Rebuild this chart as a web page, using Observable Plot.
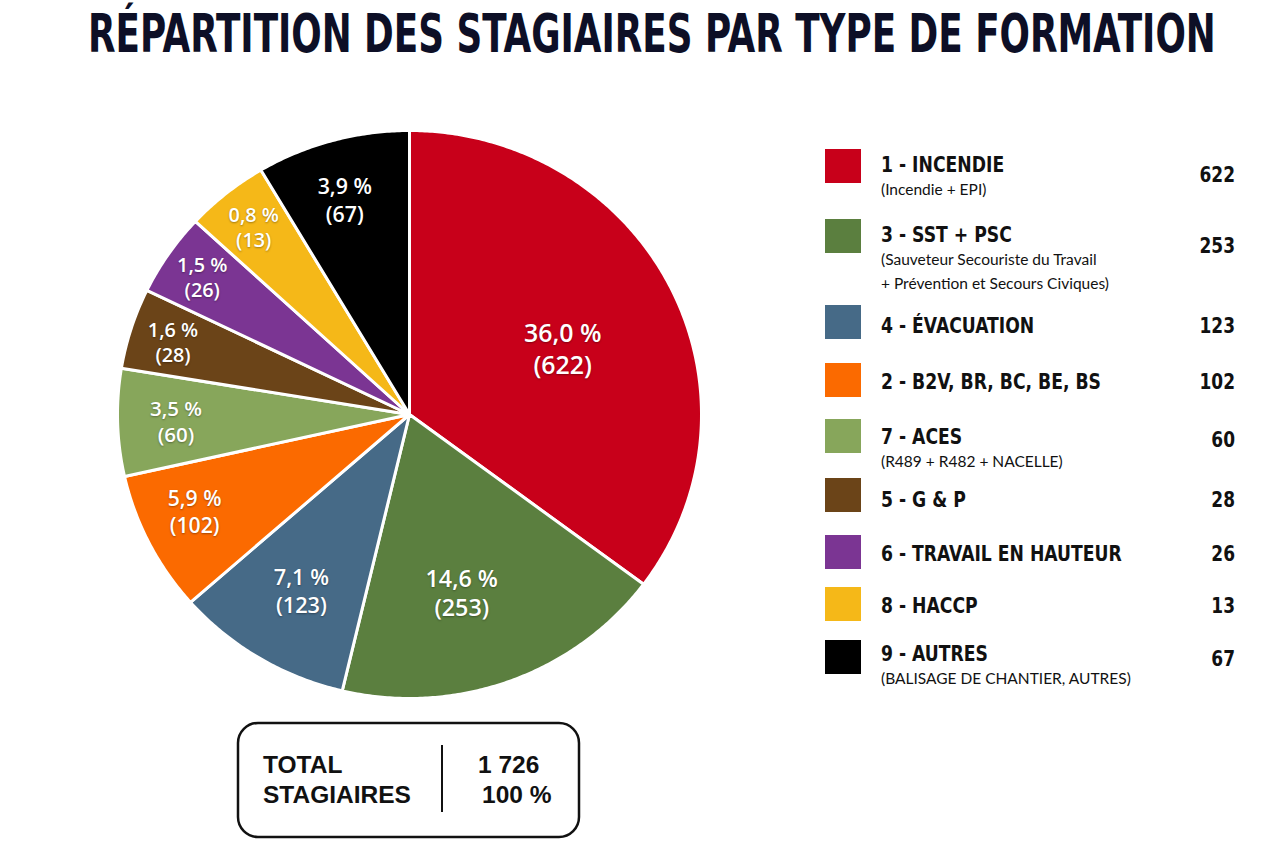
<!DOCTYPE html>
<html>
<head>
<meta charset="utf-8">
<script src="https://cdn.jsdelivr.net/npm/d3@7"></script>
<script src="https://cdn.jsdelivr.net/npm/@observablehq/plot@0.6"></script>
<style>
  html, body { margin: 0; padding: 0; background: #ffffff; width: 1280px; height: 853px; overflow: hidden; }
  #root { position: relative; width: 1280px; height: 853px; }
  #pie, #overlay { position: absolute; left: 0; top: 0; }
  #pie text { text-shadow: 0 1px 2px rgba(0,0,0,0.35); }
</style>
</head>
<body>
<div id="root">
  <div id="pie"></div>
  <div id="overlay"></div>
</div>
<script>
// ---------------- DATA ----------------
const titleText = "RÉPARTITION DES STAGIAIRES PAR TYPE DE FORMATION";
const categories = ["1 - INCENDIE", "3 - SST + PSC", "4 - ÉVACUATION", "2 - B2V, BR, BC, BE, BS",
  "7 - ACES", "5 - G & P", "6 - TRAVAIL EN HAUTEUR", "8 - HACCP", "9 - AUTRES"];
const details = [
  ["(Incendie + EPI)"],
  ["(Sauveteur Secouriste du Travail", "+ Prévention et Secours Civiques)"],
  [], [],
  ["(R489 + R482 + NACELLE)"],
  [], [], [],
  ["(BALISAGE DE CHANTIER, AUTRES)"]
];
const counts = [622, 253, 123, 102, 60, 28, 26, 13, 67];
const percentLabels = ["36,0 %", "14,6 %", "7,1 %", "5,9 %", "3,5 %", "1,6 %", "1,5 %", "0,8 %", "3,9 %"];
// slice sizes as they are drawn in the picture (% of the full circle)
const drawnShares = [35.2, 18.5, 9.8, 8.0, 6.1, 4.6, 4.7, 4.6, 8.5];
const colors = ["#c8001a", "#5b7f3f", "#466a87", "#fb6a00", "#87a65b", "#6b4418", "#7b3593", "#f5b818", "#000000"];
const totalLabel = ["TOTAL", "STAGIAIRES"];
const totalValues = ["1 726", "100 %"];

// ---------------- LAYOUT (not data) ----------------
const labelRadius = [0.575, 0.65, 0.72, 0.81, 0.80, 0.85, 0.86, 0.85, 0.79];
const labelShiftDeg = [2.5, 4, 0, 2.3, 0, 0, 0, 0, -1];
const legendMainY = [164, 234, 325, 381, 436, 499, 553, 605, 653];
const legendSwatchY = [166, 236, 322, 380, 436, 495, 552, 604, 657];
const legendNumY = [174.5, 245, 325, 381, 439, 499, 553, 605, 658];

// ---------------- PIE ----------------
const table = categories.map((name, i) => ({
  name, count: counts[i], pct: percentLabels[i], share: drawnShares[i], i
}));
const arcs = d3.pie().sort(null).value(d => d.share).startAngle(0).endAngle(2 * Math.PI)(table);

const polys = [];
for (const a of arcs) {
  polys.push({name: a.data.name, x: 0, y: 0});
  const n = Math.max(4, Math.ceil((a.endAngle - a.startAngle) / (Math.PI / 360)));
  for (let k = 0; k <= n; k++) {
    const t = a.startAngle + (a.endAngle - a.startAngle) * k / n;
    polys.push({name: a.data.name, x: Math.sin(t), y: Math.cos(t)});
  }
}
const labels = arcs.map(a => {
  const mid = (a.startAngle + a.endAngle) / 2 + labelShiftDeg[a.data.i] * Math.PI / 180;
  const r = labelRadius[a.data.i];
  return {
    x: r * Math.sin(mid), y: r * Math.cos(mid),
    text: `${a.data.pct}\n(${a.data.count})`,
    size: 16 + 2.5 * Math.log(a.data.share)
  };
});

const pie = Plot.plot({
  width: 820, height: 720,
  x: {domain: [-1, 1], range: [117, 701]},
  y: {domain: [-1, 1], range: [698, 130]},
  axis: null,
  color: {domain: categories, range: colors},
  style: {background: "transparent", overflow: "visible"},
  marks: [
    Plot.line(polys, {x: "x", y: "y", z: "name", fill: "name", stroke: "white",
      strokeWidth: 3, strokeLinejoin: "round", curve: "linear-closed"}),
    Plot.text(labels, {x: "x", y: "y", text: "text", fill: "white", fontSize: "size",
      fontWeight: 600, fontFamily: "'Open Sans', 'Noto Sans', sans-serif", lineHeight: 1.28})
  ]
});
document.getElementById("pie").appendChild(pie);

// ---------------- OVERLAY: title, legend, total ----------------
const svg = d3.select("#overlay").append("svg").attr("width", 1280).attr("height", 853);
const narrow = "'Liberation Sans Narrow', 'DejaVu Sans Condensed', 'Arial Narrow', sans-serif";

// squeeze a text horizontally (anchored at its x) to a factor, or to a target width
function squeeze(sel, x, y, opts) {
  const node = sel.node();
  const w = node.getComputedTextLength();
  const k = opts.width ? opts.width / w : opts.factor;
  const anchor = sel.attr("text-anchor") === "end" ? "end" : "start";
  sel.attr("x", 0).attr("y", 0)
    .attr("transform", `translate(${x},${y}) scale(${k},1)`)
    .attr("text-anchor", anchor);
}

const title = svg.append("text")
  .attr("font-family", narrow).attr("font-weight", "bold").attr("font-size", 54)
  .attr("fill", "#0d0f26")
  .text(titleText);
squeeze(title, 88, 52, {width: 1128});

const lg = svg.append("g");
categories.forEach((name, i) => {
  lg.append("rect").attr("x", 825).attr("y", legendSwatchY[i] - 17)
    .attr("width", 36).attr("height", 34).attr("fill", colors[i]);
  const t = lg.append("text")
    .attr("font-family", narrow).attr("font-weight", "bold").attr("font-size", 22)
    .attr("fill", "#111").text(name);
  squeeze(t, 881, legendMainY[i] + 8, {factor: 0.87});
  details[i].forEach((s, k) => {
    lg.append("text").attr("x", 881).attr("y", legendMainY[i] + 26 + k * 24 + 5)
      .attr("font-family", "Lato, 'Open Sans', sans-serif").attr("font-size", 15.5)
      .attr("fill", "#111").text(s);
  });
  const nt = lg.append("text").attr("text-anchor", "end")
    .attr("font-family", "'DejaVu Sans Condensed', sans-serif").attr("font-weight", "bold").attr("font-size", 21)
    .attr("fill", "#111").text(counts[i]);
  squeeze(nt, 1235, legendNumY[i] + 7.7, {factor: 0.9});
});

const tb = svg.append("g");
tb.append("rect").attr("x", 238).attr("y", 723).attr("width", 341).attr("height", 114)
  .attr("rx", 20).attr("fill", "white").attr("stroke", "#111").attr("stroke-width", 2.5);
tb.append("line").attr("x1", 442).attr("x2", 442).attr("y1", 745).attr("y2", 812)
  .attr("stroke", "#111").attr("stroke-width", 2);
const arial = "'Liberation Sans', Arial, sans-serif";
totalLabel.forEach((s, k) => {
  tb.append("text").attr("x", 263).attr("y", 773 + k * 30)
    .attr("font-family", arial).attr("font-weight", "bold").attr("font-size", 24.5)
    .attr("fill", "#111").text(s);
});
totalValues.forEach((s, k) => {
  tb.append("text").attr("x", k === 0 ? 478 : 482).attr("y", 773 + k * 30)
    .attr("font-family", arial).attr("font-weight", "bold").attr("font-size", 24.5)
    .attr("fill", "#111").text(s);
});
</script>
</body>
</html>
